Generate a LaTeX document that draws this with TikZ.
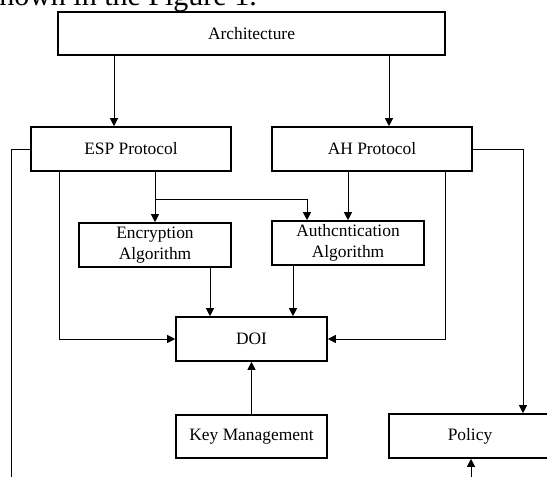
\documentclass[tikz,border=0pt]{standalone}
\usepackage{fontspec}
\setmainfont{Liberation Serif}
\usetikzlibrary{arrows.meta}

\begin{document}
\begin{tikzpicture}[x=1pt, y=-1pt,
        box/.style={draw, line width=1.6pt, fill=white, inner sep=0pt, align=center,
            font=\fontsize{17.4}{21.5}\selectfont},
        conn/.style={line width=1pt},
        arr/.style={conn, -{Triangle[length=8pt,width=8pt]}}]
        \useasboundingbox (0,0) rectangle (547,477);
        \clip (0,0) rectangle (547,477);
        % text of the page above the figure
        \node[anchor=base east, inner sep=0pt, font=\fontsize{30}{36}\selectfont] (caption) at (257,5) {shown in the Figure 1.};
        % boxes
        \node[box, minimum width=387pt, minimum height=43pt] (arch) at (251.5,33.5) {Architecture};
        \node[box, minimum width=200pt, minimum height=44pt] (esp) at (131,149) {ESP Protocol};
        \node[box, minimum width=200pt, minimum height=44pt] (ah) at (372,149) {AH Protocol};
        \node[box, minimum width=152pt, minimum height=44pt] (enc) at (155,245) {Encryption\\Algorithm};
        \node[box, minimum width=152pt, minimum height=44pt] (auth) at (348,243) {Authcntication\\Algorithm};
        \node[box, minimum width=151pt, minimum height=44pt] (doi) at (251.5,339) {DOI};
        \node[box, minimum width=151pt, minimum height=43pt] (key) at (251.5,436.5) {Key Management};
        \node[box, minimum width=162pt, minimum height=44pt] (policy) at (470,436) {Policy};
        % free ends
        \coordinate (split) at (155,199);
        \coordinate (leftend) at (11,477);
        \coordinate (policyin) at (471,477);
        % connectors
        \draw[arr] (arch.south -| 114,0) -- (esp.north -| 114,0);
        \draw[arr] (arch.south -| 389,0) -- (ah.north -| 389,0);
        \draw[arr] (esp.south -| enc.north) -- (enc.north);
        \draw[arr] (split) -- (split -| 307,0) -- (auth.north -| 307,0);
        \draw[arr] (ah.south -| auth.north) -- (auth.north);
        \draw[arr] (enc.south -| 210,0) -- (doi.north -| 210,0);
        \draw[arr] (auth.south -| 293,0) -- (doi.north -| 293,0);
        \draw[arr] (esp.south -| 59,0) |- (doi.west);
        \draw[arr] (ah.south -| 445,0) |- (doi.east);
        \draw[arr] (key.north) -- (doi.south);
        \draw[conn] (esp.west) -| (leftend);
        \draw[arr] (ah.east) -| (policy.north -| 523,0);
        \draw[arr] (policyin) -- (policy.south -| policyin);
    \end{tikzpicture}
\end{document}
